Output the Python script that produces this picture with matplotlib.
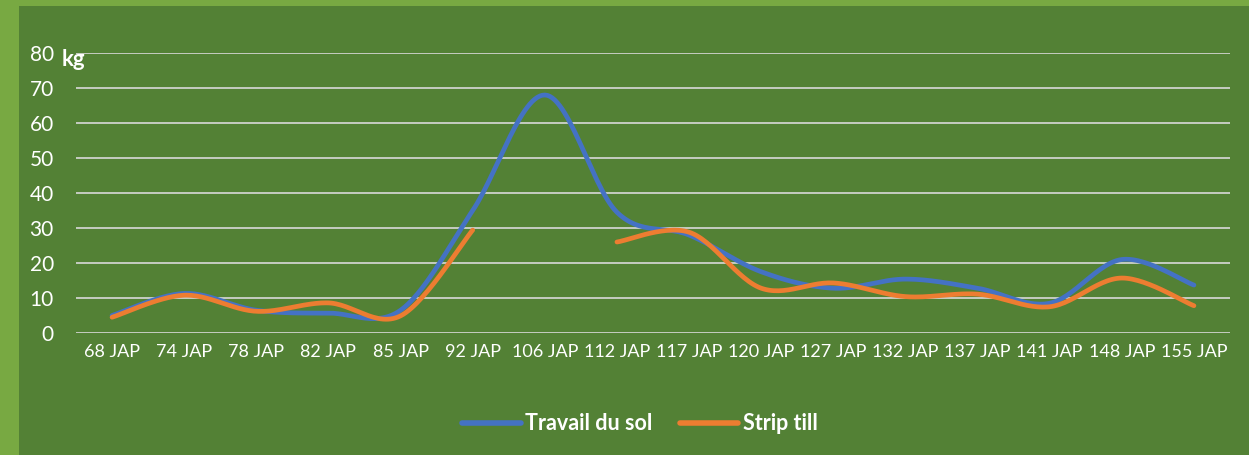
import matplotlib.pyplot as plt
import numpy as np
from matplotlib.patches import Rectangle

categories = ["68 JAP", "74 JAP", "78 JAP", "82 JAP", "85 JAP", "92 JAP", "106 JAP", "112 JAP",
              "117 JAP", "120 JAP", "127 JAP", "132 JAP", "137 JAP", "141 JAP", "148 JAP", "155 JAP"]
travail_du_sol = [5.0, 11.3, 6.5, 5.7, 6.5, 35.0, 68.0, 34.5, 28.0, 17.5, 12.8, 15.4, 12.8, 8.5, 21.0, 13.7]
strip_till = [4.5, 10.8, 6.2, 8.6, 4.9, 29.4, None, 26.0, 28.8, 12.8, 14.3, 10.4, 11.1, 7.5, 15.7, 7.8]
y_ticks = [0, 10, 20, 30, 40, 50, 60, 70, 80]

BG_OUTER = "#78A942"
BG_INNER = "#538135"
BLUE = "#4472C4"
ORANGE = "#ED7D31"
FONT = "Lato"


def smooth(xs, ys, n=30):
    """Excel-like smoothed line (Catmull-Rom as cubic Bezier)."""
    xs = np.asarray(xs, float)
    ys = np.asarray(ys, float)
    if len(xs) < 2:
        return xs, ys
    px = np.concatenate([[xs[0]], xs, [xs[-1]]])
    py = np.concatenate([[ys[0]], ys, [ys[-1]]])
    t = np.linspace(0, 1, n)[:, None]
    out_x, out_y = [], []
    for i in range(1, len(px) - 2):
        p0 = np.array([px[i], py[i]])
        p3 = np.array([px[i + 1], py[i + 1]])
        b1 = p0 + (p3 - np.array([px[i - 1], py[i - 1]])) / 6
        b2 = p3 - (np.array([px[i + 2], py[i + 2]]) - p0) / 6
        pts = (1 - t) ** 3 * p0 + 3 * (1 - t) ** 2 * t * b1 + 3 * (1 - t) * t ** 2 * b2 + t ** 3 * p3
        out_x.extend(pts[:, 0])
        out_y.extend(pts[:, 1])
    return np.array(out_x), np.array(out_y)


def segments(values):
    """Split a series at missing values."""
    segs, cur = [], []
    for i, v in enumerate(values):
        if v is None:
            if cur:
                segs.append(cur)
            cur = []
        else:
            cur.append((i, v))
    if cur:
        segs.append(cur)
    return segs


W, H = 1249, 455
fig = plt.figure(figsize=(W / 100, H / 100), dpi=100)
fig.patch.set_facecolor(BG_OUTER)
fig.patches.append(Rectangle((19 / W, 0), 1, 1 - 6 / H, transform=fig.transFigure,
                             facecolor=BG_INNER, edgecolor="none", zorder=-10))

ax = fig.add_axes([76 / W, (H - 333) / H, (1230 - 76) / W, (333 - 53) / H])
ax.set_facecolor("none")
ax.set_xlim(-0.5, len(categories) - 0.5)
ax.set_ylim(0, 80)
ax.set_yticks(y_ticks)
ax.set_xticks(range(len(categories)))
ax.set_xticklabels(categories)
ax.yaxis.grid(True, color="#D9D9D9", linewidth=1.2)
ax.set_axisbelow(True)
for side in ax.spines.values():
    side.set_visible(False)
ax.tick_params(axis="x", length=0, colors="white", labelsize=13, pad=8)
ax.tick_params(axis="y", length=0, colors="white", labelsize=15, pad=16)
for lbl in ax.get_xticklabels() + ax.get_yticklabels():
    lbl.set_fontfamily(FONT)

series = [("Travail du sol", travail_du_sol, BLUE), ("Strip till", strip_till, ORANGE)]
for name, vals, color in series:
    for k, seg in enumerate(segments(vals)):
        sx, sy = smooth([p[0] for p in seg], [p[1] for p in seg])
        ax.plot(sx, sy, color=color, linewidth=3.4, solid_capstyle="round",
                label=name if k == 0 else None, zorder=3)

fig.text(62 / W, 1 - 60 / H, "kg", color="white", fontsize=16, fontweight="bold",
         fontfamily=FONT, va="center", ha="left")

leg = fig.legend(loc="center", bbox_to_anchor=(640 / W, 1 - 424 / H), ncol=2, frameon=False,
                 handlelength=2.7, handletextpad=0.2, columnspacing=1.3,
                 prop={"family": FONT, "weight": "bold", "size": 15.5})
for t in leg.get_texts():
    t.set_color("white")
for h in leg.legend_handles:
    h.set_linewidth(4)
    h.set_solid_capstyle("round")

fig.savefig("out.png", dpi=100, facecolor=fig.get_facecolor())
